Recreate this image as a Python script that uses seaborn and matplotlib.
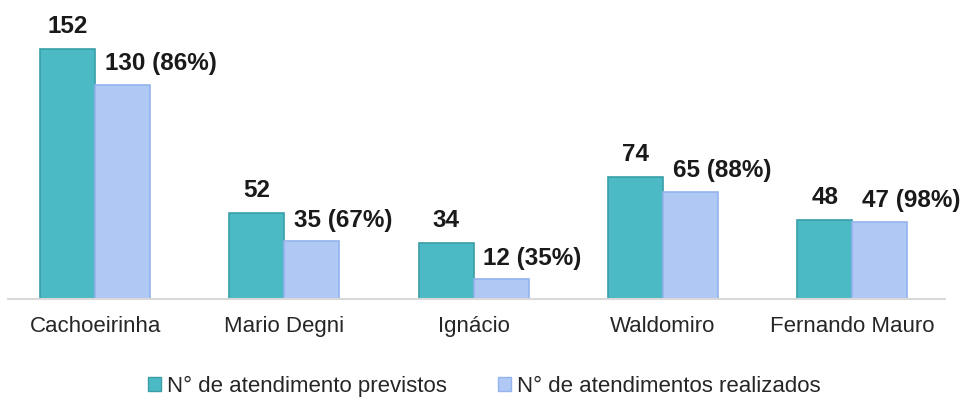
import matplotlib
matplotlib.use("Agg")
import matplotlib.pyplot as plt
import seaborn as sns
import pandas as pd
from matplotlib.patches import Patch

unidades = ["Cachoeirinha", "Mario Degni", "Ignácio", "Waldomiro", "Fernando Mauro"]
previstos = [152, 52, 34, 74, 48]
realizados = [130, 35, 12, 65, 47]
series = ["N° de atendimento previstos", "N° de atendimentos realizados"]

cor_prev = "#4BBAC4"
cor_prev_borda = "#3A9EA7"
cor_real = "#B0C9F4"
cor_real_borda = "#94B4EE"

df = pd.DataFrame({
    "unidade": unidades * 2,
    "valor": previstos + realizados,
    "serie": [series[0]] * len(unidades) + [series[1]] * len(unidades),
})

sns.set_theme(style="white")
plt.rcParams["font.family"] = ["Liberation Sans", "DejaVu Sans"]

fig = plt.figure(figsize=(9.66, 4.03), dpi=100)
ax = fig.add_axes([8 / 966, 104 / 403, (945 - 8) / 966, (299 - 10) / 403])

sns.barplot(data=df, x="unidade", y="valor", hue="serie",
            palette=[cor_prev, cor_real], width=0.58, gap=0,
            saturation=1, ax=ax, legend=False)

for cont, borda in zip(ax.containers, [cor_prev_borda, cor_real_borda]):
    for bar in cont:
        bar.set_edgecolor(borda)
        bar.set_linewidth(1.2)

# rótulos de valor
for bar, v in zip(ax.containers[0], previstos):
    ax.annotate(f"{v}", (bar.get_x() + bar.get_width() / 2, bar.get_height()),
                xytext=(0, 8), textcoords="offset points",
                ha="center", va="bottom", fontsize=17.5, fontweight="bold",
                color="#1a1a1a")
for bar, v, p in zip(ax.containers[1], realizados, previstos):
    ax.annotate(f"{v} ({round(v / p * 100)}%)", (bar.get_x(), bar.get_height()),
                xytext=(7, 7), textcoords="offset points",
                ha="left", va="bottom", fontsize=17.5, fontweight="bold",
                color="#1a1a1a")

ax.set_ylim(0, 175.7)
ax.set_xlim(-0.46, 4.49)
ax.set_xlabel("")
ax.set_ylabel("")
ax.set_yticks([])
for s in ["top", "left", "right"]:
    ax.spines[s].set_visible(False)
ax.spines["bottom"].set_color("#D9D9D9")
ax.spines["bottom"].set_linewidth(1.5)
ax.tick_params(axis="x", length=0, pad=12, labelsize=16, colors="#262626")

handles = [Patch(facecolor=cor_prev, edgecolor=cor_prev_borda),
           Patch(facecolor=cor_real, edgecolor=cor_real_borda)]
fig.legend(handles, series, loc="center", bbox_to_anchor=(484 / 966, 1 - 386 / 403),
           ncol=2, frameon=False, fontsize=16, handlelength=0.6, handleheight=0.6,
           handletextpad=0.25, columnspacing=2.3, labelcolor="#262626")

fig.savefig("out.png", dpi=100)
